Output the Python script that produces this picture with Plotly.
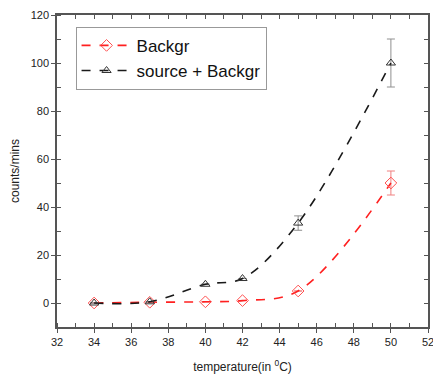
import plotly.graph_objects as go

temps = [34, 37, 40, 42, 45, 50]
backgr = [0, 0.3, 0.5, 1.0, 5.0, 50.0]
backgr_err = [0, 0, 0, 0, 0, 5.0]
source = [0, 0.5, 7.8, 10.2, 33.3, 100.0]
source_err = [0, 0, 0, 0, 3.0, 10.0]

x_ticks = [32, 34, 36, 38, 40, 42, 44, 46, 48, 50, 52]
y_ticks = [0, 20, 40, 60, 80, 100, 120]

FONT = "Liberation Sans, Arial, sans-serif"
AX = "#555555"

fig = go.Figure()
fig.add_trace(go.Scatter(
    x=temps, y=backgr, name="Backgr", mode="lines+markers",
    line=dict(color="#ff2020", dash="dash", width=1.6, shape="spline", smoothing=1),
    marker=dict(symbol="diamond-open", size=9, color="#ff5050", line=dict(width=1)),
    error_y=dict(type="data", array=backgr_err, visible=True, color="#f08080", thickness=1, width=4),
))
fig.add_trace(go.Scatter(
    x=temps, y=source, name="source + Backgr", mode="lines+markers",
    line=dict(color="#1a1a1a", dash="dash", width=1.6, shape="spline", smoothing=1),
    marker=dict(symbol="triangle-up-open", size=8, color="#333333", line=dict(width=1)),
    error_y=dict(type="data", array=source_err, visible=True, color="#909090", thickness=1, width=4),
))
fig.add_trace(go.Scatter(x=[32], y=[-10], xaxis="x2", yaxis="y2", mode="markers",
                         marker=dict(opacity=0), showlegend=False, hoverinfo="skip"))

fig.update_layout(
    width=433, height=380,
    margin=dict(l=57, r=5, t=15, b=53),
    paper_bgcolor="white", plot_bgcolor="white",
    font=dict(family=FONT, size=11, color="#222222"),
    showlegend=True,
    legend=dict(x=0.05, y=0.962, xanchor="left", yanchor="top",
                bordercolor="#999999", borderwidth=1, bgcolor="white",
                font=dict(size=17, color="#111111"), tracegroupgap=0,
                itemwidth=50),
    xaxis=dict(range=[32, 52], tickvals=x_ticks, ticks="outside", ticklen=4,
               tickcolor=AX, showline=True, linecolor=AX, linewidth=1.5,
               showgrid=False, zeroline=False, automargin=False,
               ticklabeloverflow="allow",
               minor=dict(dtick=1, ticks="inside", ticklen=4, tickcolor=AX),
               title=dict(text="temperature(in <sup>0</sup>C)", font=dict(size=12), standoff=16)),
    yaxis=dict(range=[-10, 120], tickvals=y_ticks, ticks="outside", ticklen=4,
               tickcolor=AX, showline=True, linecolor=AX, linewidth=1.5,
               showgrid=False, zeroline=False, automargin=False,
               ticklabeloverflow="allow",
               minor=dict(dtick=10, tick0=0, ticks="inside", ticklen=4, tickcolor=AX),
               title=dict(text="counts/mins", font=dict(size=12), standoff=8)),
    xaxis2=dict(range=[32, 52], overlaying="x", side="top", tickvals=x_ticks,
                ticks="inside", ticklen=4, tickcolor=AX, showticklabels=False,
                showline=True, linecolor=AX, linewidth=1.5, showgrid=False, zeroline=False,
                automargin=False,
                minor=dict(dtick=1, ticks="inside", ticklen=4, tickcolor=AX)),
    yaxis2=dict(range=[-10, 120], overlaying="y", side="right", tickvals=y_ticks,
                ticks="inside", ticklen=4, tickcolor=AX, showticklabels=False,
                showline=True, linecolor=AX, linewidth=1.5, showgrid=False, zeroline=False,
                automargin=False,
                minor=dict(dtick=10, tick0=0, ticks="inside", ticklen=4, tickcolor=AX)),
)

fig.write_html("out.html", config={"displayModeBar": False},
               post_script="document.body.style.margin='0';document.body.style.overflow='hidden';")
